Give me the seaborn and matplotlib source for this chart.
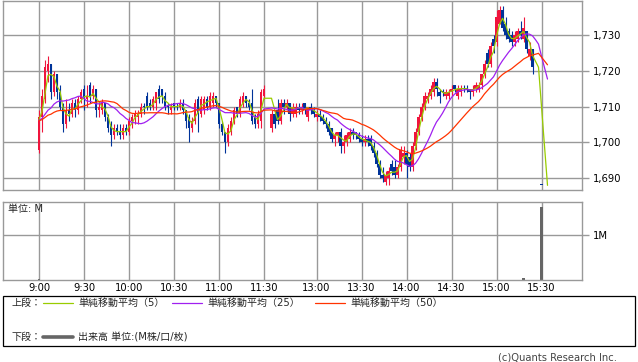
import numpy as np
import pandas as pd
import matplotlib.pyplot as plt
import matplotlib.ticker as mticker
from matplotlib.patches import Rectangle
import seaborn as sns

# 前日終盤の2分足終値 (移動平均の立ち上がりから推定、描画はしない)
PREV_CLOSES = [1705, 1706, 1706, 1707, 1706, 1705, 1706, 1706, 1707, 1706, 1706, 1705,
               1706, 1706, 1707, 1706, 1705, 1706, 1706, 1706, 1707, 1706, 1706, 1706]

# --- 2分足データ (前場 9:00-11:30) ---
AM_OPEN = [1698, 1707, 1712, 1720, 1722, 1714, 1719, 1714, 1710, 1705,
           1709, 1708, 1711, 1709, 1712, 1715, 1712, 1716, 1713, 1715,
           1709, 1709, 1711, 1707, 1705, 1702, 1704, 1703, 1702, 1704,
           1703, 1706, 1707, 1707, 1708, 1710, 1713, 1711, 1710, 1711,
           1715, 1715, 1713, 1710, 1709, 1711, 1710, 1710, 1711, 1709,
           1707, 1704, 1706, 1712, 1708, 1709, 1712, 1710, 1711, 1713,
           1711, 1705, 1703, 1700, 1703, 1706, 1710, 1708, 1711, 1713,
           1711, 1711, 1707, 1705, 1706, 1713]
AM_HIGH = [1709, 1715, 1723, 1724, 1722, 1720, 1719, 1716, 1711, 1712,
           1711, 1712, 1712, 1713, 1715, 1716, 1716, 1717, 1716, 1715,
           1711, 1712, 1711, 1708, 1706, 1705, 1705, 1705, 1705, 1705,
           1707, 1708, 1709, 1709, 1711, 1711, 1714, 1712, 1713, 1714,
           1716, 1715, 1714, 1711, 1711, 1711, 1711, 1712, 1712, 1709,
           1708, 1707, 1712, 1713, 1713, 1713, 1713, 1714, 1714, 1713,
           1711, 1706, 1703, 1705, 1707, 1710, 1710, 1713, 1714, 1713,
           1712, 1715, 1708, 1709, 1715, 1716]
AM_LOW = [1697, 1703, 1711, 1717, 1712, 1713, 1712, 1709, 1703, 1704,
          1706, 1707, 1707, 1708, 1711, 1709, 1710, 1711, 1712, 1707,
          1707, 1708, 1706, 1703, 1699, 1701, 1702, 1701, 1701, 1702,
          1702, 1704, 1705, 1705, 1707, 1708, 1709, 1709, 1709, 1709,
          1711, 1711, 1709, 1708, 1708, 1709, 1709, 1709, 1708, 1704,
          1700, 1703, 1705, 1703, 1707, 1708, 1709, 1709, 1710, 1710,
          1704, 1702, 1697, 1699, 1702, 1705, 1707, 1707, 1710, 1710,
          1709, 1705, 1704, 1704, 1704, 1712]
AM_CLOSE = [1707, 1713, 1721, 1722, 1714, 1719, 1714, 1710, 1705, 1709,
            1708, 1711, 1709, 1712, 1714, 1712, 1713, 1713, 1715, 1709,
            1710, 1711, 1707, 1704, 1702, 1704, 1703, 1702, 1704, 1703,
            1706, 1707, 1708, 1708, 1710, 1710, 1710, 1710, 1712, 1714,
            1712, 1713, 1710, 1710, 1710, 1710, 1710, 1711, 1709, 1706,
            1704, 1706, 1711, 1708, 1712, 1712, 1710, 1713, 1713, 1711,
            1705, 1703, 1700, 1704, 1706, 1709, 1708, 1712, 1713, 1711,
            1710, 1706, 1705, 1708, 1714, 1715]

# --- 2分足データ (後場 12:30-15:24) ---
PM_OPEN = [1704, 1708, 1709, 1706, 1711, 1710, 1711, 1708, 1708, 1710,
           1709, 1711, 1707, 1710, 1709, 1707, 1708, 1707, 1706, 1705,
           1704, 1701, 1702, 1703, 1699, 1700, 1701, 1703, 1703, 1702,
           1701, 1700, 1701, 1701, 1699, 1697, 1694, 1691, 1689, 1690,
           1694, 1693, 1691, 1693, 1696, 1697, 1696, 1693, 1699, 1703,
           1707, 1710, 1712, 1713, 1714, 1717, 1714, 1714, 1713, 1713,
           1714, 1716, 1713, 1714, 1715, 1715, 1715, 1714, 1715, 1715,
           1716, 1719, 1725, 1722, 1729, 1728, 1733, 1737, 1733, 1731,
           1730, 1728, 1729, 1731, 1729, 1731, 1724, 1726]
PM_HIGH = [1709, 1709, 1712, 1712, 1712, 1712, 1711, 1711, 1711, 1711,
           1711, 1711, 1710, 1711, 1710, 1709, 1709, 1708, 1707, 1706,
           1704, 1703, 1703, 1704, 1702, 1703, 1704, 1704, 1703, 1703,
           1702, 1702, 1702, 1702, 1700, 1698, 1695, 1693, 1692, 1693,
           1695, 1695, 1694, 1699, 1699, 1698, 1697, 1700, 1704, 1708,
           1711, 1714, 1714, 1716, 1718, 1718, 1715, 1715, 1715, 1715,
           1716, 1716, 1716, 1716, 1716, 1716, 1715, 1716, 1717, 1717,
           1719, 1723, 1726, 1728, 1730, 1737, 1738, 1738, 1735, 1732,
           1731, 1731, 1732, 1734, 1735, 1731, 1728, 1726]
PM_LOW = [1703, 1704, 1705, 1705, 1708, 1709, 1706, 1707, 1707, 1708,
          1708, 1708, 1706, 1708, 1707, 1706, 1706, 1705, 1704, 1702,
          1700, 1699, 1700, 1697, 1697, 1699, 1700, 1701, 1701, 1700,
          1699, 1699, 1699, 1698, 1696, 1693, 1690, 1689, 1688, 1688,
          1691, 1690, 1690, 1692, 1694, 1690, 1692, 1692, 1698, 1702,
          1706, 1709, 1711, 1712, 1713, 1713, 1711, 1713, 1712, 1712,
          1713, 1714, 1712, 1713, 1714, 1714, 1712, 1713, 1714, 1714,
          1715, 1718, 1721, 1721, 1725, 1727, 1733, 1731, 1729, 1728,
          1727, 1727, 1728, 1729, 1728, 1725, 1723, 1719]
PM_CLOSE = [1708, 1705, 1706, 1711, 1710, 1711, 1708, 1710, 1710, 1709,
            1710, 1709, 1710, 1709, 1708, 1708, 1707, 1706, 1705, 1703,
            1701, 1702, 1703, 1699, 1700, 1702, 1703, 1702, 1702, 1701,
            1700, 1701, 1700, 1699, 1697, 1694, 1691, 1690, 1691, 1692,
            1692, 1691, 1693, 1698, 1697, 1694, 1693, 1699, 1703, 1707,
            1710, 1713, 1713, 1715, 1717, 1715, 1713, 1714, 1714, 1714,
            1715, 1715, 1715, 1715, 1715, 1715, 1714, 1715, 1716, 1716,
            1719, 1722, 1722, 1727, 1727, 1735, 1737, 1732, 1730, 1729,
            1728, 1730, 1731, 1730, 1732, 1726, 1726, 1721]

# 引け (15:30) の板寄せ
CLOSING_TIME = "15:30"
CLOSING_PRICE = 1688

# 出来高 (単位: M) — 目に見える棒だけ
VOL_TIMES = ["9:00", "15:18", "15:30"]
VOL_VALUES = [0.03, 0.05, 1.63]

TIME_TICKS = ["9:00", "9:30", "10:00", "10:30", "11:00", "11:30",
              "13:00", "13:30", "14:00", "14:30", "15:00", "15:30"]
PRICE_TICKS = [1690, 1700, 1710, 1720, 1730]

# 移動平均: ラベル, 2分足での本数, 色
MA_LABELS = ["単純移動平均（5）", "単純移動平均（25）", "単純移動平均（50）"]
MA_BARS = [3, 13, 25]
MA_COLORS = ["#99cc00", "#a020f0", "#ff3300"]

UP_COLOR = "#f0143c"
DOWN_COLOR = "#003399"
GRID_COLOR = "#999999"
VOL_COLOR = "#666666"
FS = 7.2
LUNCH_SHIFT = 55  # 昼休み 60分を 5分分の隙間に詰める


def chart_pos(times):
    t = pd.DatetimeIndex(times)
    mins = np.asarray(t.hour * 60 + t.minute - 540)
    return np.where(mins >= 210, mins - LUNCH_SHIFT, mins)


def hm(strings):
    return pd.to_datetime(strings, format="%H:%M")


am = pd.DataFrame({"time": pd.date_range("2024-01-01 09:00", "2024-01-01 11:30", freq="2min"),
                   "open": AM_OPEN, "high": AM_HIGH, "low": AM_LOW, "close": AM_CLOSE})
pm = pd.DataFrame({"time": pd.date_range("2024-01-01 12:30", "2024-01-01 15:24", freq="2min"),
                   "open": PM_OPEN, "high": PM_HIGH, "low": PM_LOW, "close": PM_CLOSE})
tail = pd.DataFrame({"time": pd.date_range("2024-01-01 15:26", "2024-01-01 15:34", freq="2min")})
is_close = tail["time"].dt.strftime("%H:%M").str.lstrip("0") == CLOSING_TIME
for col in ["open", "high", "low", "close"]:
    tail[col] = np.where(is_close, CLOSING_PRICE, np.nan)

df = pd.concat([am, pm, tail], ignore_index=True)
df["pos"] = chart_pos(df["time"])

# 前日分を先頭に付けて移動平均を計算
closes = pd.concat([pd.Series(PREV_CLOSES, dtype=float), df["close"]], ignore_index=True).ffill()
n_prev = len(PREV_CLOSES)
for i, w in enumerate(MA_BARS):
    df[f"ma{i}"] = closes.rolling(w, min_periods=1).mean().iloc[n_prev:].to_numpy()

sns.set_theme(style="white")
plt.rcParams["font.family"] = ["DejaVu Sans", "Noto Sans CJK JP"]

W, H = 638, 362
fig = plt.figure(figsize=(W / 100, H / 100), dpi=100)


def px_rect(l, t, r, b):
    return [l / W, 1 - b / H, (r - l) / W, (b - t) / H]


ax1 = fig.add_axes(px_rect(3, 1, 582, 190))
ax2 = fig.add_axes(px_rect(3, 202, 582, 280))

tick_pos = chart_pos(hm(TIME_TICKS))

# ローソク足
c = df.dropna(subset=["open"])
up = c["close"] > c["open"]
colors = np.where(up, UP_COLOR, DOWN_COLOR)
body = (c["close"] - c["open"]).where(lambda s: s.abs() > 0.3, 0.3)
ax1.vlines(c["pos"], c["low"], c["high"], colors=colors, lw=0.8, zorder=2)
ax1.bar(c["pos"], body, bottom=c["open"], width=1.8, color=colors, lw=0, zorder=2)

for i in range(3):
    sns.lineplot(data=df, x="pos", y=f"ma{i}", ax=ax1, color=MA_COLORS[i],
                 lw=0.9, estimator=None, zorder=3)

ax1.set_xlim(-24, 362)
ax1.set_ylim(1686.7, 1739.5)
ax1.set_xticks(tick_pos)
ax1.set_xticklabels([])
ax1.set_yticks(PRICE_TICKS)
ax1.yaxis.set_major_formatter(mticker.FuncFormatter(lambda v, _: f"{v:,.0f}"))
ax1.yaxis.tick_right()

# 出来高
ax2.bar(chart_pos(hm(VOL_TIMES)), VOL_VALUES, width=1.6, color=VOL_COLOR, lw=0)
ax2.set_xlim(-24, 362)
ax2.set_ylim(0, 1.733)
ax2.set_xticks(tick_pos)
ax2.set_xticklabels(TIME_TICKS)
ax2.set_yticks([1.0])
ax2.set_yticklabels(["1M"])
ax2.yaxis.tick_right()

for ax in (ax1, ax2):
    ax.set_xlabel("")
    ax.set_ylabel("")
    ax.grid(True, color=GRID_COLOR, lw=1)
    ax.set_axisbelow(True)
    for s in ax.spines.values():
        s.set_color(GRID_COLOR)
        s.set_linewidth(1)
    ax.tick_params(axis="y", length=5, width=1, color=GRID_COLOR, labelsize=FS,
                   pad=3, labelcolor="black", right=True, left=False)
    ax.tick_params(axis="x", length=0, labelsize=FS, pad=2, labelcolor="black")

# 凡例・注記 (ピクセル座標)
lg = fig.add_axes([0, 0, 1, 1])
lg.set_xlim(0, W)
lg.set_ylim(H, 0)
lg.axis("off")
lg.add_patch(Rectangle((3, 296), 632, 50, fill=False, ec="black", lw=0.9))

lg.text(12, 303, "上段：", fontsize=FS, va="center")
for x0, label, color in zip([43, 172, 315], MA_LABELS, MA_COLORS):
    lg.plot([x0, x0 + 30], [303, 303], color=color, lw=0.9)
    lg.text(x0 + 35, 303, label, fontsize=FS, va="center")
lg.text(12, 337, "下段：", fontsize=FS, va="center")
lg.plot([43, 73], [337, 337], color=VOL_COLOR, lw=2.6)
lg.text(78, 337, "出来高 単位:(M株/口/枚)", fontsize=FS, va="center")

lg.text(8, 209, "単位: M", fontsize=FS, va="center")
lg.text(617, 357, "(c)Quants Research Inc.", fontsize=FS, va="center", ha="right", color="#444444")

fig.savefig("out.png", dpi=100)
